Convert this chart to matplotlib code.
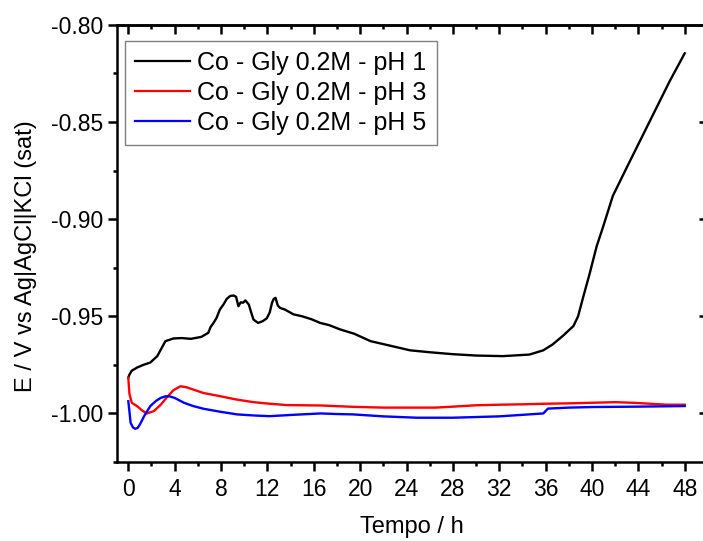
import matplotlib
matplotlib.use("Agg")
import matplotlib.pyplot as plt
from matplotlib.ticker import MultipleLocator

plt.rcParams['font.family'] = ['Liberation Sans', 'DejaVu Sans']

# Open-circuit potential vs time for Co-Gly 0.2 M baths at three pH values
black_t = [0, 0.1, 0.3, 0.75, 1.3, 1.9, 2.5, 3.2, 3.9, 4.6, 5.4, 6.3, 6.9, 7.1, 7.35,
           7.6, 7.9, 8.2, 8.5, 8.8, 9.1, 9.3, 9.5, 9.7, 9.9, 10.1, 10.4, 10.6, 10.8,
           11.2, 11.6, 11.95, 12.2, 12.4, 12.55, 12.7, 12.9, 13.1, 13.5, 14.25, 15,
           15.8, 16.55, 17.3, 18.3, 19.5, 20.9, 22.5, 24.3, 26, 28, 30, 32.3, 34.6,
           35.8, 36.6, 37.5, 38.4, 38.8, 39.2, 39.8, 40.4, 40.9, 41.8, 42.9, 44.2,
           45.4, 46.7, 48]
black_v = [-0.9816, -0.980, -0.978, -0.9764, -0.975, -0.9738, -0.9705, -0.9628,
           -0.9614, -0.9612, -0.9616, -0.9606, -0.9585, -0.9555, -0.9534, -0.951,
           -0.9465, -0.944, -0.941, -0.9395, -0.9393, -0.940, -0.9448, -0.9428,
           -0.9430, -0.9418, -0.944, -0.948, -0.9517, -0.9534, -0.9525, -0.951,
           -0.948, -0.943, -0.941, -0.9405, -0.9445, -0.9457, -0.9465, -0.949,
           -0.950, -0.9515, -0.9534, -0.9545, -0.9568, -0.959, -0.9628, -0.965,
           -0.9675, -0.9685, -0.9695, -0.9702, -0.9705, -0.9697, -0.9675, -0.9645,
           -0.960, -0.955, -0.950, -0.941, -0.928, -0.914, -0.905, -0.888, -0.8746,
           -0.859, -0.8446, -0.829, -0.8146]

red_t = [0, 0.1, 0.3, 0.75, 1.2, 1.6, 2.2, 2.8, 3.3, 3.9, 4.5, 5.0, 5.6, 6.5, 7.9,
         9.3, 10.8, 12.2, 13.7, 16.6, 19.4, 22, 24.6, 26.5, 28, 30, 32, 34, 36, 38,
         40, 42, 43.5, 45, 46.5, 48]
red_v = [-0.9816, -0.990, -0.9945, -0.9962, -0.9985, -1.0, -0.9988, -0.9955, -0.9919,
         -0.988, -0.986, -0.9865, -0.9877, -0.9895, -0.9911, -0.9928, -0.9942, -0.995,
         -0.9957, -0.9959, -0.9966, -0.997, -0.997, -0.997, -0.9965, -0.9958, -0.9955,
         -0.9953, -0.995, -0.9948, -0.9945, -0.9942, -0.9945, -0.995, -0.9955, -0.9955]

blue_t = [0, 0.1, 0.2, 0.4, 0.6, 0.8, 1.0, 1.4, 1.9, 2.4, 2.8, 3.2, 3.5, 4.0, 4.8,
          5.6, 6.5, 8.0, 9.4, 11, 12.2, 14.25, 16.6, 18, 19.4, 22, 24.9, 28, 32,
          35.8, 36.2, 38, 40, 44, 48]
blue_v = [-0.9937, -0.9990, -1.0048, -1.0072, -1.0079, -1.0075, -1.0057, -1.001,
          -0.9962, -0.9935, -0.992, -0.9912, -0.9911, -0.9920, -0.9945, -0.9962,
          -0.9976, -0.9992, -1.0005, -1.0011, -1.0014, -1.0007, -1.0, -1.0003,
          -1.0005, -1.0015, -1.0022, -1.0022, -1.0015, -1.0, -0.9975, -0.997,
          -0.9967, -0.9965, -0.9962]

labels = ["Co - Gly 0.2M - pH 1", "Co - Gly 0.2M - pH 3", "Co - Gly 0.2M - pH 5"]
colors = ["#000000", "#ff0000", "#0000ff"]

x_ticks = list(range(0, 49, 4))
y_ticks = [-1.00, -0.95, -0.90, -0.85, -0.80]
y_ticklabels = ["-1.00", "-0.95", "-0.90", "-0.85", "-0.80"]

fig = plt.figure(figsize=(7.03, 5.41), dpi=100)
ax = fig.add_axes([0.166, 0.146, 0.841, 0.808])

for t, v, c, lab in zip([black_t, red_t, blue_t], [black_v, red_v, blue_v], colors, labels):
    ax.plot(t, v, color=c, lw=1.7, label=lab)

ax.set_xlim(-1, 50)
ax.set_ylim(-1.025, -0.80)

fs = 16.5
ax.set_xticks(x_ticks)
ax.xaxis.set_minor_locator(MultipleLocator(2))
ax.set_yticks(y_ticks)
ax.set_yticklabels(y_ticklabels)
ax.yaxis.set_minor_locator(MultipleLocator(0.025))

ax.tick_params(which='major', direction='out', length=6.5, width=1.8, labelsize=fs, pad=5)
ax.tick_params(which='minor', direction='out', length=3.2, width=1.8)
ax.tick_params(axis='y', which='major', pad=3)

for s in ax.spines.values():
    s.set_linewidth(1.8)

# mirrored inward ticks on the top and right axes
top = ax.secondary_xaxis('top')
top.set_xticks(x_ticks)
top.xaxis.set_minor_locator(MultipleLocator(2))
top.tick_params(which='major', direction='in', length=6.5, width=1.8, labeltop=False)
top.tick_params(which='minor', direction='in', length=3.2, width=1.8)
top.spines['top'].set_linewidth(1.8)

right = ax.secondary_yaxis('right')
right.set_yticks(y_ticks)
right.yaxis.set_minor_locator(MultipleLocator(0.025))
right.tick_params(which='major', direction='in', length=6.5, width=1.8, labelright=False)
right.tick_params(which='minor', direction='in', length=3.2, width=1.8)
right.spines['right'].set_linewidth(1.8)

ax.set_xlabel("Tempo / h", fontsize=17)
ax.set_ylabel("E / V vs Ag|AgCl|KCl (sat)", fontsize=17)
ax.xaxis.set_label_coords(0.5, -0.149)
ax.xaxis.label.set_va('center')
ax.yaxis.set_label_coords(-0.153, 0.471)
ax.yaxis.label.set_va('center')

leg = ax.legend(loc='upper left', bbox_to_anchor=(0.014, 0.964), borderaxespad=0,
                fontsize=18, frameon=True, fancybox=False, edgecolor='#606060',
                handlelength=2.2, handletextpad=0.3, borderpad=0.4,
                labelspacing=0.25)
leg.get_frame().set_linewidth(1.0)
for line in leg.get_lines():
    line.set_linewidth(1.6)

fig.savefig("out.png", dpi=100)
